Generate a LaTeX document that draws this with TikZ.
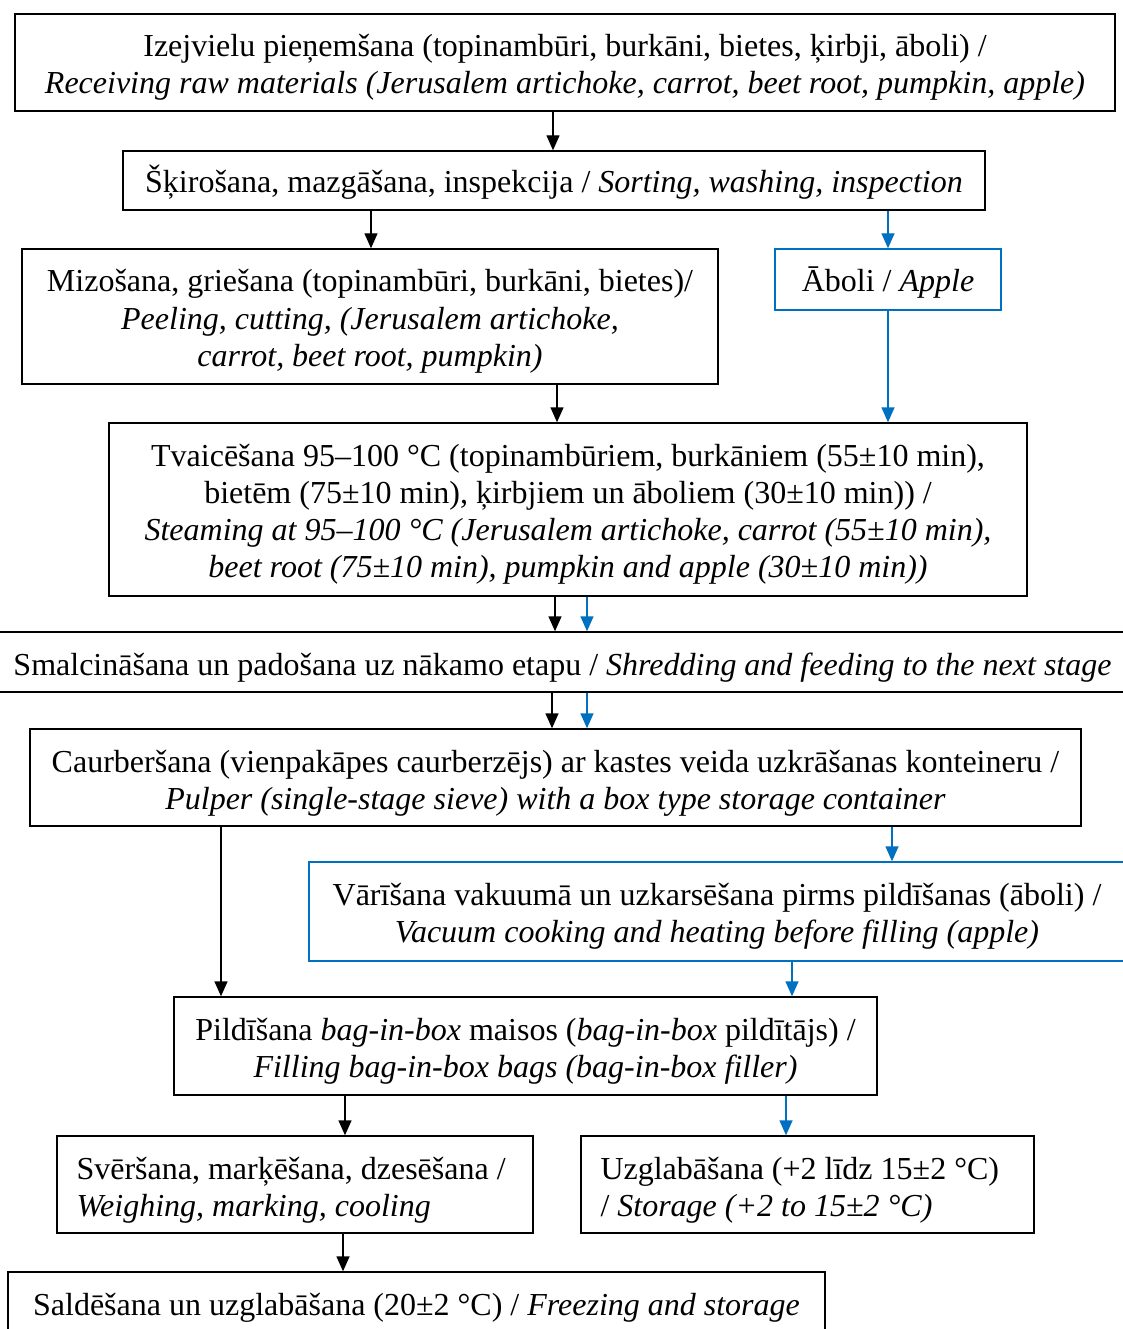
\documentclass[tikz,border=0pt]{standalone}
\usepackage{fontspec}
\setmainfont{Liberation Serif}
\usetikzlibrary{arrows.meta}
\definecolor{flowblue}{RGB}{0,112,192}
% fixed first-line height so every text block starts at the same depth
\newcommand\fstrut{\rule{0pt}{31pt}}
\begin{document}
\begin{tikzpicture}[x=1pt,y=-1pt,
  every node/.style={font=\fontsize{32}{37}\selectfont},
  frame/.style={draw=black,line width=1.4pt,inner sep=0pt},
  blueframe/.style={frame,draw=flowblue},
  txt/.style={anchor=north,yshift=-12.5pt,inner sep=0pt,align=center},
  ltxt/.style={anchor=north west,xshift=20pt,yshift=-12.5pt,inner sep=0pt,align=left},
  arr/.style={-{Triangle[length=15pt,width=13pt]},line width=1.4pt,black},
  barr/.style={arr,flowblue}]
\useasboundingbox (0,0) rectangle (1123,1329);
\clip (0,0) rectangle (1123,1329);
\fill[white] (0,0) rectangle (1123,1329);

% frames of the process steps
\node[frame,minimum width=1100,minimum height=97] (recv) at (565,62.5) {};
\node[frame,minimum width=862,minimum height=59] (sort) at (554,180.5) {};
\node[frame,minimum width=696,minimum height=135] (peel) at (370,316.5) {};
\node[blueframe,minimum width=226,minimum height=61] (apple) at (888,279.5) {};
\node[frame,minimum width=918,minimum height=173] (steam) at (568,509.5) {};
\node[frame,minimum width=1145,minimum height=60] (shred) at (562.5,662) {};
\node[frame,minimum width=1051,minimum height=97] (pulp) at (555.5,777.5) {};
\node[blueframe,minimum width=816,minimum height=99] (vac) at (717,911.5) {};
\node[frame,minimum width=703,minimum height=98] (fill) at (525.5,1046) {};
\node[frame,minimum width=476,minimum height=97] (weigh) at (295,1184.5) {};
\node[frame,minimum width=453,minimum height=97] (store) at (807.5,1184.5) {};
\node[frame,minimum width=817,minimum height=64] (freeze) at (416.5,1304) {};

% texts of the process steps
\node[txt] (recv-t) at (recv.north)
  {\fstrut Izejvielu pieņemšana (topinambūri, burkāni, bietes, ķirbji, āboli) /\\
   \textit{Receiving raw materials (Jerusalem artichoke, carrot, beet root, pumpkin, apple)}};
\node[txt,yshift=1.5pt] (sort-t) at (sort.north)
  {\fstrut Šķirošana, mazgāšana, inspekcija / \textit{Sorting, washing, inspection}};
\node[txt] (peel-t) at (peel.north)
  {\fstrut Mizošana, griešana (topinambūri, burkāni, bietes)/\\
   \textit{Peeling, cutting, (Jerusalem artichoke,}\\
   \textit{carrot, beet root, pumpkin)}};
\node[txt] (apple-t) at (apple.north)
  {\fstrut Āboli / \textit{Apple}};
\node[txt] (steam-t) at (steam.north)
  {\fstrut Tvaicēšana 95–100 °C (topinambūriem, burkāniem (55±10 min),\\
   bietēm (75±10 min), ķirbjiem un āboliem (30±10 min)) /\\
   \textit{Steaming at 95–100 °C (Jerusalem artichoke, carrot (55±10 min),}\\
   \textit{beet root (75±10 min), pumpkin and apple (30±10 min))}};
\node[txt] (shred-t) at (shred.north)
  {\fstrut Smalcināšana un padošana uz nākamo etapu / \textit{Shredding and feeding to the next stage}};
\node[txt] (pulp-t) at (pulp.north)
  {\fstrut Caurberšana (vienpakāpes caurberzējs) ar kastes veida uzkrāšanas konteineru /\\
   \textit{Pulper (single-stage sieve) with a box type storage container}};
\node[txt] (vac-t) at (vac.north)
  {\fstrut Vārīšana vakuumā un uzkarsēšana pirms pildīšanas (āboli) /\\
   \textit{Vacuum cooking and heating before filling (apple)}};
\node[txt] (fill-t) at (fill.north)
  {\fstrut Pildīšana \textit{bag-in-box} maisos (\textit{bag-in-box} pildītājs) /\\
   \textit{Filling bag-in-box bags (bag-in-box filler)}};
\node[ltxt] (weigh-t) at (weigh.north west)
  {\fstrut Svēršana, marķēšana, dzesēšana /\\
   \textit{Weighing, marking, cooling}};
\node[ltxt] (store-t) at (store.north west)
  {\fstrut Uzglabāšana (+2 līdz 15±2 °C)\\
   / \textit{Storage (+2 to 15±2 °C)}};
\node[txt] (freeze-t) at (freeze.north)
  {\fstrut Saldēšana un uzglabāšana (20±2 °C) / \textit{Freezing and storage}};

% connectors
\draw[arr]  (553,0 |- recv.south)  -- (553,0 |- sort.north);
\draw[arr]  (371,0 |- sort.south)  -- (371,0 |- peel.north);
\draw[barr] (888,0 |- sort.south)  -- (apple.north);
\draw[arr]  (557,0 |- peel.south)  -- (557,0 |- steam.north);
\draw[barr] (apple.south) -- (888,0 |- steam.north);
\draw[arr]  (555,0 |- steam.south) -- (555,0 |- shred.north);
\draw[barr] (587,0 |- steam.south) -- (587,0 |- shred.north);
\draw[arr]  (552,0 |- shred.south) -- (552,0 |- pulp.north);
\draw[barr] (587,0 |- shred.south) -- (587,0 |- pulp.north);
\draw[barr] (892,0 |- pulp.south)  -- (892,0 |- vac.north);
\draw[arr]  (221,0 |- pulp.south)  -- (221,0 |- fill.north);
\draw[barr] (792,0 |- vac.south)   -- (792,0 |- fill.north);
\draw[arr]  (345,0 |- fill.south)  -- (345,0 |- weigh.north);
\draw[barr] (786,0 |- fill.south)  -- (786,0 |- store.north);
\draw[arr]  (343,0 |- weigh.south) -- (343,0 |- freeze.north);
\end{tikzpicture}
\end{document}
